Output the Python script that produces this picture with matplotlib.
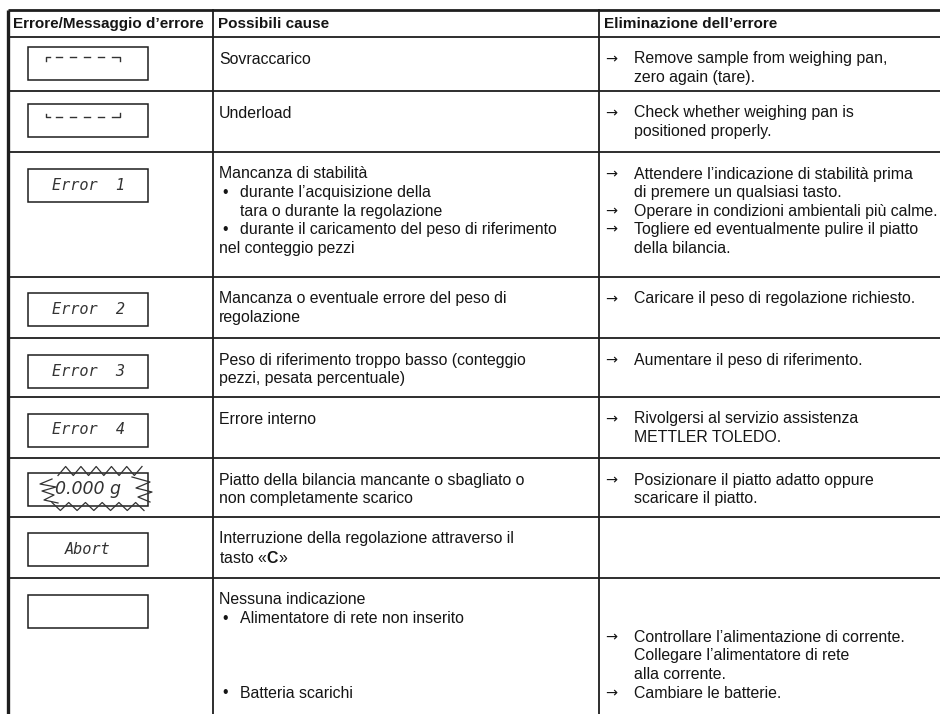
import matplotlib
matplotlib.use("Agg")
import matplotlib.pyplot as plt
import numpy as np

plt.rcParams['mathtext.fontset'] = 'custom'
plt.rcParams['mathtext.rm'] = 'Liberation Sans'
plt.rcParams['mathtext.bf'] = 'Liberation Sans:bold'

W, H = 940, 714

headers = ["Errore/Messaggio d\u2019errore", "Possibili cause", "Eliminazione dell\u2019errore"]

displays = ["overload", "underload", "Error  1", "Error  2", "Error  3",
            "Error  4", "flash", "Abort", ""]

# kinds: p = plain, b = bullet, c = continuation (indented), a = arrow, s = skip line
causes = [
    [("p", "Sovraccarico")],
    [("p", "Underload")],
    [("p", "Mancanza di stabilit\u00e0"),
     ("b", "durante l\u2019acquisizione della"),
     ("c", "tara o durante la regolazione"),
     ("b", "durante il caricamento del peso di riferimento"),
     ("p", "nel conteggio pezzi")],
    [("p", "Mancanza o eventuale errore del peso di"), ("p", "regolazione")],
    [("p", "Peso di riferimento troppo basso (conteggio"), ("p", "pezzi, pesata percentuale)")],
    [("p", "Errore interno")],
    [("p", "Piatto della bilancia mancante o sbagliato o"), ("p", "non completamente scarico")],
    [("p", "Interruzione della regolazione attraverso il"), ("p", r"tasto «$\mathbf{C}$»")],
    [("p", "Nessuna indicazione"),
     ("b", "Alimentatore di rete non inserito"),
     ("s", ""), ("s", ""), ("s", ""),
     ("b", "Batteria scarichi")],
]

remedies = [
    [("a", "Remove sample from weighing pan,"), ("c", "zero again (tare).")],
    [("a", "Check whether weighing pan is"), ("c", "positioned properly.")],
    [("a", "Attendere l\u2019indicazione di stabilit\u00e0 prima"),
     ("c", "di premere un qualsiasi tasto."),
     ("a", "Operare in condizioni ambientali pi\u00f9 calme."),
     ("a", "Togliere ed eventualmente pulire il piatto"),
     ("c", "della bilancia.")],
    [("a", "Caricare il peso di regolazione richiesto.")],
    [("a", "Aumentare il peso di riferimento.")],
    [("a", "Rivolgersi al servizio assistenza"), ("c", "METTLER TOLEDO.")],
    [("a", "Posizionare il piatto adatto oppure"), ("c", "scaricare il piatto.")],
    [],
    [("s", ""), ("s", ""),
     ("a", "Controllare l\u2019alimentazione di corrente."),
     ("c", "Collegare l\u2019alimentatore di rete"),
     ("c", "alla corrente."),
     ("a", "Cambiare le batterie.")],
]

# layout (pixels)
table_top = 9.5
row_tops = [37, 91, 152, 277, 338, 397, 458, 517, 578]
col_x = [8, 213, 599, W + 5]
line_h = 18.6
first_off = 22

fig = plt.figure(figsize=(W / 100, H / 100), dpi=100)
ax = fig.add_axes([0, 0, 1, 1])
ax.set_xlim(0, W)
ax.set_ylim(H, 0)
ax.axis("off")

LC = "#1e1e1e"
TC = "#151515"
FONT = "Liberation Sans"
FS = 11.4

# borders
ax.plot([col_x[0], W], [table_top, table_top], color=LC, lw=2.0, solid_capstyle="butt")
ax.plot([col_x[0], col_x[0]], [table_top, H], color=LC, lw=2.4, solid_capstyle="butt")
for x in col_x[1:3]:
    ax.plot([x, x], [table_top, H], color=LC, lw=1.3)
for y in row_tops:
    ax.plot([col_x[0], W], [y, y], color=LC, lw=1.3)

# headers
hx = [13, 218, 604]
for x, t in zip(hx, headers):
    ax.text(x, (table_top + row_tops[0]) / 2 + 1, t, fontsize=11, fontweight="bold",
            family=FONT, va="center", ha="left", color=TC)


def draw_cell(lines, top, x0):
    for i, (kind, t) in enumerate(lines):
        y = top + first_off + i * line_h
        if kind == "s":
            continue
        if kind == "p":
            ax.text(x0, y, t, fontsize=FS, family=FONT, va="center", color=TC)
        elif kind == "b":
            ax.text(x0 + 3, y, "\u2022", fontsize=FS, family=FONT, va="center", color=TC)
            ax.text(x0 + 21, y, t, fontsize=FS, family=FONT, va="center", color=TC)
        elif kind == "c":
            ax.text(x0 + 21 if x0 < 400 else x0 + 29, y, t, fontsize=FS, family=FONT,
                    va="center", color=TC)
        elif kind == "a":
            ax.text(x0, y, "\u2192", fontsize=FS - 1, family="DejaVu Sans", va="center", color=TC)
            ax.text(x0 + 29, y, t, fontsize=FS, family=FONT, va="center", color=TC)


for top, c in zip(row_tops, causes):
    draw_cell(c, top, 219)
for top, r in zip(row_tops, remedies):
    draw_cell(r, top, 605)

# display boxes
bx0, bw, bh = 28, 120, 33
box_center = [26, 29, 33, 32, 33, 33, 31, 32, 33]
for top, d, off in zip(row_tops, displays, box_center):
    cy = top + off
    y0 = cy - bh / 2
    ax.add_patch(plt.Rectangle((bx0, y0), bw, bh, fill=False, ec=LC, lw=1.1))
    if d == "overload":
        ax.plot([bx0 + 18, bx0 + 18, bx0 + 22], [cy - 2, cy - 6, cy - 6], color="#333", lw=1.0)
        for k in range(4):
            xs = bx0 + 28 + k * 14
            ax.plot([xs, xs + 6], [cy - 6, cy - 6], color="#333", lw=1.0)
        ax.plot([bx0 + 84, bx0 + 92, bx0 + 92], [cy - 6, cy - 6, cy - 2], color="#333", lw=1.0)
    elif d == "underload":
        ax.plot([bx0 + 18, bx0 + 18, bx0 + 22], [cy - 6, cy - 3, cy - 3], color="#333", lw=1.0)
        for k in range(4):
            xs = bx0 + 28 + k * 14
            ax.plot([xs, xs + 6], [cy - 3, cy - 3], color="#333", lw=1.0)
        ax.plot([bx0 + 84, bx0 + 92, bx0 + 92], [cy - 3, cy - 3, cy - 7], color="#333", lw=1.0)
    elif d == "flash":
        ax.text(bx0 + 60, cy, "0.000 g", fontsize=12.5, family="DejaVu Sans",
                fontstyle="italic", ha="center", va="center", color="#333")
        # zig-zag rays (decorative)
        xt = np.linspace(bx0 + 30, bx0 + 114, 12)
        yt = np.where(np.arange(12) % 2 == 0, y0 + 3, y0 - 6)
        ax.plot(xt, yt, color="#333", lw=0.9)
        xb = np.linspace(bx0 + 24, bx0 + 116, 12)
        yb = np.where(np.arange(12) % 2 == 0, y0 + bh - 3, y0 + bh + 5)
        ax.plot(xb, yb, color="#333", lw=0.9)
        ax.plot([bx0 + 24, bx0 + 12, bx0 + 28, bx0 + 14, bx0 + 26, bx0 + 16, bx0 + 30],
                [cy - 10, cy - 5, cy - 2, cy + 2, cy + 6, cy + 11, cy + 14], color="#333", lw=0.9)
        ax.plot([bx0 + 104, bx0 + 122, bx0 + 108, bx0 + 124, bx0 + 110, bx0 + 122],
                [cy - 12, cy - 7, cy - 1, cy + 3, cy + 8, cy + 13], color="#333", lw=0.9)
    elif d:
        ax.text(bx0 + 60, cy, d, fontsize=11, family="DejaVu Sans Mono", fontstyle="italic",
                ha="center", va="center", color="#333")

fig.savefig("out.png", dpi=100)
